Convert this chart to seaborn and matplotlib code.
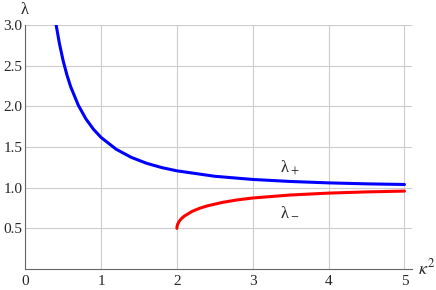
import numpy as np
import pandas as pd
import matplotlib
matplotlib.use("Agg")
import matplotlib.pyplot as plt
import seaborn as sns
from matplotlib.ticker import MultipleLocator

# values
k2_plus = [0.408, 0.45, 0.5, 0.55, 0.6, 0.7, 0.8, 0.9, 1.0, 1.2, 1.4, 1.6, 1.8,
           2.0, 2.5, 3.0, 3.5, 4.0, 4.5, 5.0]
lam_plus = [3.0, 2.778, 2.562, 2.386, 2.240, 2.014, 1.846, 1.718, 1.618, 1.472,
            1.372, 1.300, 1.247, 1.207, 1.140, 1.101, 1.076, 1.059, 1.047, 1.039]

k2_minus = [2.0, 2.003, 2.01, 2.03, 2.06, 2.1, 2.2, 2.3, 2.4, 2.6, 2.8, 3.0,
            3.5, 4.0, 4.5, 5.0]
lam_minus = [0.5, 0.527, 0.550, 0.586, 0.620, 0.652, 0.708, 0.747, 0.776, 0.819,
             0.850, 0.873, 0.910, 0.933, 0.948, 0.958]

xticks = [0, 1, 2, 3, 4, 5]
yticks = [0.5, 1.0, 1.5, 2.0, 2.5, 3.0]

sns.set_style("white")
plt.rcParams['font.family'] = ['Liberation Serif', 'DejaVu Serif']
plt.rcParams['mathtext.fontset'] = 'stix'
plt.rcParams['font.size'] = 11

fig = plt.figure(figsize=(4.36, 2.90), dpi=100)
ax = fig.add_axes([0.0578, 0.0724, 0.8872, 0.8414])

df_p = pd.DataFrame({'k2': k2_plus, 'lam': lam_plus})
df_m = pd.DataFrame({'k2': k2_minus, 'lam': lam_minus})
sns.lineplot(data=df_p, x='k2', y='lam', color=(0, 0, 1), lw=2.2, sort=False, ax=ax)
sns.lineplot(data=df_m, x='k2', y='lam', color=(1, 0, 0), lw=2.2, sort=False, ax=ax)

ax.set_xlim(0, 5.1)
ax.set_ylim(0, 3.0)
ax.set_xticks(xticks)
ax.set_yticks(yticks)
ax.set_xticklabels([str(t) for t in xticks])
ax.set_yticklabels(['%.1f' % t for t in yticks])
ax.xaxis.set_minor_locator(MultipleLocator(0.2))
ax.yaxis.set_minor_locator(MultipleLocator(0.1))
ax.tick_params(which='major', direction='in', length=4, width=0.8, color='#666666',
               labelsize=11, pad=2)
ax.tick_params(which='minor', direction='in', length=2.2, width=0.6, color='#666666')
ax.tick_params(axis='x', pad=4)

ax.grid(True, which='major', color='#cccccc', lw=0.8)
ax.set_axisbelow(True)
for s in ['top', 'right']:
    ax.spines[s].set_visible(False)
for s in ['left', 'bottom']:
    ax.spines[s].set_color('#666666')
    ax.spines[s].set_linewidth(0.8)

ax.set_xlabel('')
ax.set_ylabel('')
fig.text(25 / 436, 1 - 10 / 290, 'λ', fontsize=12, ha='center', va='center')
fig.text(427 / 436, 1 - 268 / 290, r'$\kappa^2$', fontsize=13, ha='center', va='center')
ax.text(3.49, 1.24, r'λ$_+$', fontsize=12, ha='center', va='center')
ax.text(3.49, 0.70, r'λ$_-$', fontsize=12, ha='center', va='center')

fig.savefig('out.png', dpi=100)
